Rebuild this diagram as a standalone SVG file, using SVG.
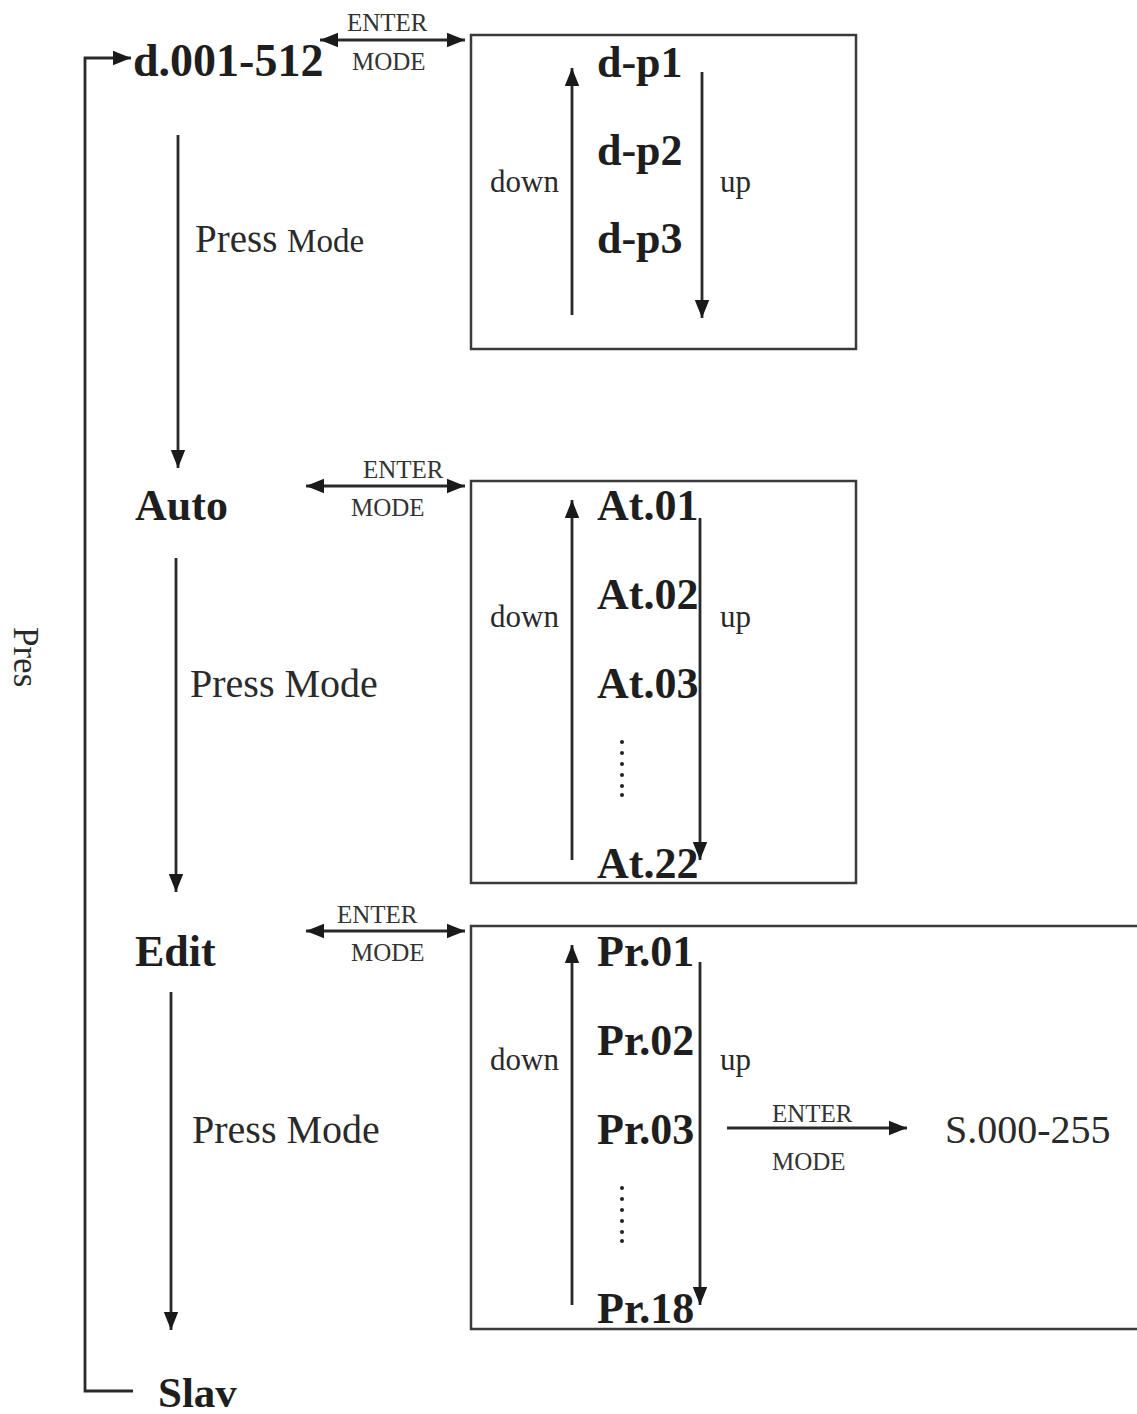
<svg xmlns="http://www.w3.org/2000/svg" width="1137" height="1414" viewBox="0 0 1137 1414">
<defs>
<marker id="ahb" viewBox="0 0 10 10" refX="10" refY="5" markerWidth="18" markerHeight="18" markerUnits="userSpaceOnUse" orient="auto-start-reverse">
<path d="M0,1 L10,5 L0,9 z" fill="#1a1a1a"/>
</marker>
</defs>
<style>
.ln{stroke:#2a2a2a;stroke-width:2.8;fill:none}
.box{stroke:#3a3a3a;stroke-width:2.5;fill:none}
.b{font-family:"Liberation Serif",serif;font-weight:bold;fill:#1e1e1e}
.r{font-family:"Liberation Serif",serif;fill:#2a2a2a}
.s{font-family:"Liberation Serif",serif;fill:#333;font-size:25px}
.lst{font-size:44px}
.du{font-size:31px}
</style>
<rect width="1137" height="1414" fill="#fff"/>
<g id="connectors">
<path class="ln" d="M133,1391 H85 V58 H131" marker-end="url(#ahb)"/>
<line class="ln" x1="178" y1="135" x2="178" y2="468" marker-end="url(#ahb)"/>
<line class="ln" x1="176" y1="558" x2="176" y2="892" marker-end="url(#ahb)"/>
<line class="ln" x1="171" y1="992" x2="171" y2="1330" marker-end="url(#ahb)"/>
<line class="ln" x1="320" y1="40" x2="465" y2="40" marker-start="url(#ahb)" marker-end="url(#ahb)"/>
<line class="ln" x1="306" y1="486" x2="465" y2="486" marker-start="url(#ahb)" marker-end="url(#ahb)"/>
<line class="ln" x1="306" y1="931" x2="465" y2="931" marker-start="url(#ahb)" marker-end="url(#ahb)"/>
<line class="ln" x1="727" y1="1128" x2="907" y2="1128" marker-end="url(#ahb)"/>
</g>
<g id="n-d001"><text class="b" x="133" y="76" font-size="46">d.001-512</text></g>
<g id="lbl-em1"><text class="s" x="347" y="31">ENTER</text><text class="s" x="352" y="70">MODE</text></g>
<g id="lbl-em2"><text class="s" x="363" y="478">ENTER</text><text class="s" x="351" y="516">MODE</text></g>
<g id="lbl-em3"><text class="s" x="337" y="923">ENTER</text><text class="s" x="351" y="961">MODE</text></g>
<g id="lbl-em4"><text class="s" x="772" y="1122">ENTER</text><text class="s" x="772" y="1170">MODE</text></g>
<g id="n-box1">
<rect class="box" x="471" y="35" width="385" height="314"/>
<line class="ln" x1="572" y1="315" x2="572" y2="68" marker-end="url(#ahb)"/>
<line class="ln" x1="702" y1="72" x2="702" y2="318" marker-end="url(#ahb)"/>
<text class="b lst" x="597" y="77">d-p1</text>
<text class="b lst" x="597" y="165">d-p2</text>
<text class="b lst" x="597" y="253">d-p3</text>
<text class="r du" x="490" y="192">down</text>
<text class="r du" x="720" y="192">up</text>
</g>
<g id="n-auto"><text class="b" x="135" y="520" font-size="44">Auto</text></g>
<g id="n-box2">
<rect class="box" x="471" y="481" width="385" height="402"/>
<line class="ln" x1="572" y1="860" x2="572" y2="500" marker-end="url(#ahb)"/>
<line class="ln" x1="700" y1="518" x2="700" y2="860" marker-end="url(#ahb)"/>
<text class="b lst" x="597" y="520">At.01</text>
<text class="b lst" x="597" y="609">At.02</text>
<text class="b lst" x="597" y="698">At.03</text>
<text class="b lst" x="597" y="878">At.22</text>
<text class="r du" x="490" y="627">down</text>
<text class="r du" x="720" y="627">up</text>
<g fill="#222"><circle cx="622" cy="742" r="2"/><circle cx="622" cy="753" r="2"/><circle cx="622" cy="764" r="2"/><circle cx="622" cy="775" r="2"/><circle cx="622" cy="786" r="2"/><circle cx="622" cy="795" r="2"/></g>
</g>
<g id="n-edit"><text class="b" x="135" y="966" font-size="44">Edit</text></g>
<g id="n-box3">
<rect class="box" x="471" y="926" width="668" height="403"/>
<line class="ln" x1="572" y1="1305" x2="572" y2="945" marker-end="url(#ahb)"/>
<line class="ln" x1="700" y1="962" x2="700" y2="1305" marker-end="url(#ahb)"/>
<text class="b lst" x="597" y="966">Pr.01</text>
<text class="b lst" x="597" y="1055">Pr.02</text>
<text class="b lst" x="597" y="1144">Pr.03</text>
<text class="b lst" x="597" y="1323">Pr.18</text>
<text class="r du" x="490" y="1070">down</text>
<text class="r du" x="720" y="1070">up</text>
<g fill="#222"><circle cx="622" cy="1188" r="2"/><circle cx="622" cy="1199" r="2"/><circle cx="622" cy="1210" r="2"/><circle cx="622" cy="1221" r="2"/><circle cx="622" cy="1232" r="2"/><circle cx="622" cy="1241" r="2"/></g>
</g>
<g id="n-s000"><text class="r" x="945" y="1143" font-size="40">S.000-255</text></g>
<g id="n-slav"><text class="b" x="158" y="1407" font-size="43">Slav</text></g>
<g id="lbl-pm1"><text class="r" x="195" y="252" font-size="39">Press <tspan font-size="33">Mode</tspan></text></g>
<g id="lbl-pm2"><text class="r" x="190" y="697" font-size="40">Press Mode</text></g>
<g id="lbl-pm3"><text class="r" x="192" y="1143" font-size="40">Press Mode</text></g>
<g id="lbl-pres"><text class="r" x="14" y="627" font-size="35" transform="rotate(90 14 627)">Pres</text></g>
</svg>
